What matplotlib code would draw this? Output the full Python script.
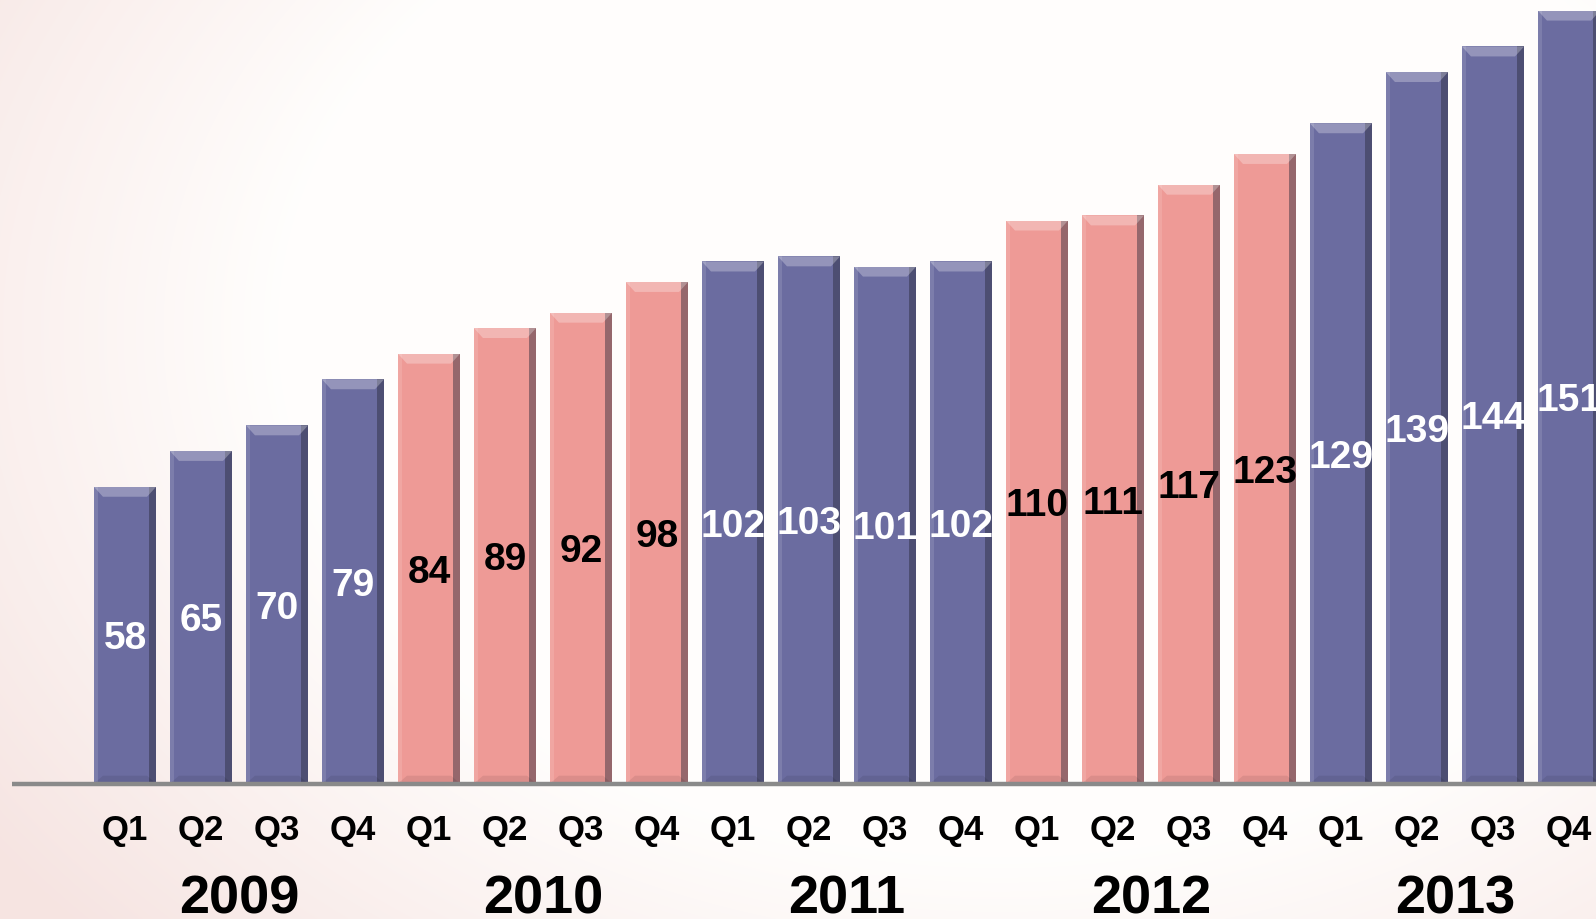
import numpy as np
import matplotlib
matplotlib.use("Agg")
import matplotlib.pyplot as plt
from matplotlib.patches import Polygon

# quarterly values, 2009-2013
quarters = ["Q1", "Q2", "Q3", "Q4"] * 5
years = ["2009", "2010", "2011", "2012", "2013"]
values = [58, 65, 70, 79,
          84, 89, 92, 98,
          102, 103, 101, 102,
          110, 111, 117, 123,
          129, 139, 144, 151]

blue = "#6B6CA0"
pink = "#EE9A96"
year_colors = [blue, pink, blue, pink, blue]
label_colors = ["white", "black", "white", "black", "white"]

W, H = 1596, 919
fig = plt.figure(figsize=(W / 100, H / 100), dpi=100)

# soft pinkish background with a light round glow
bg = fig.add_axes([0, 0, 1, 1], zorder=0)
yy, xx = np.mgrid[0:H, 0:W]
r = np.hypot((xx - 1000) / 850.0, (yy - 330) / 620.0)
t = np.clip((r - 0.85) / 0.6, 0, 1)
c0 = np.array([1.0, 0.995, 0.99])
c1 = np.array([0.965, 0.895, 0.885])
img = c0[None, None, :] * (1 - t[..., None]) + c1[None, None, :] * t[..., None]
bg.imshow(img, aspect="auto", extent=[0, 1, 0, 1])
bg.axis("off")

ax = fig.add_axes([0, 0, 1, 1], zorder=1)
ax.patch.set_alpha(0)

step = 76.0          # px between bar centers
x0 = 125             # px of first bar center
ppu = 5.12           # px per unit
base = 135.3         # px of baseline from bottom
ax.set_xlim(-x0 / step, (W - x0) / step)
ax.set_ylim(-base / ppu, (H - base) / ppu)
ax.axis("off")

x = np.arange(len(values))
bw = 0.82
colors = [year_colors[i // 4] for i in range(len(values))]
lcolors = [label_colors[i // 4] for i in range(len(values))]

ax.bar(x, values, width=bw, color=colors, edgecolor="none", zorder=2)

# bevel shading: dark right edge, light left edge, chamfered top
dw = bw * 0.11
ax.bar(x + bw / 2 - dw / 2, values, width=dw, color="#2a2a3a", alpha=0.45,
       edgecolor="none", zorder=3)
ax.bar(x - bw / 2 + dw * 0.3, values, width=dw * 0.6, color="white", alpha=0.12,
       edgecolor="none", zorder=3)
ch = 10 / ppu
for xi, v, c in zip(x, values, colors):
    left, right = xi - bw / 2, xi + bw / 2
    top = Polygon([(left, v), (right, v), (right - 0.12, v - ch), (left + 0.12, v - ch)],
                  closed=True, facecolor="white", alpha=0.28, edgecolor="none", zorder=4)
    ax.add_patch(top)
    bot = Polygon([(left, 0), (right, 0), (right - 0.12, ch * 0.8), (left + 0.12, ch * 0.8)],
                  closed=True, facecolor="black", alpha=0.08, edgecolor="none", zorder=4)
    ax.add_patch(bot)

# baseline
ax.plot([(12 - x0) / step, 20], [0, 0], color="#8a8a8a", lw=3.2, zorder=5,
        solid_capstyle="butt")

font = ["Liberation Sans", "DejaVu Sans"]
for xi, v, lc in zip(x, values, lcolors):
    ax.text(xi, v / 2 - 0.8, str(v), ha="center", va="center", color=lc,
            fontsize=28, fontweight="bold", family=font, zorder=6)

for xi, q in zip(x, quarters):
    ax.text(xi, -9.1, q, ha="center", va="center", color="black",
            fontsize=25, fontweight="bold", family=font)

for k, yr in enumerate(years):
    ax.text(4 * k + 1.5, -22.6, yr, ha="center", va="center", color="black",
            fontsize=39, fontweight="bold", family=font)

fig.savefig("out.png", dpi=100)
